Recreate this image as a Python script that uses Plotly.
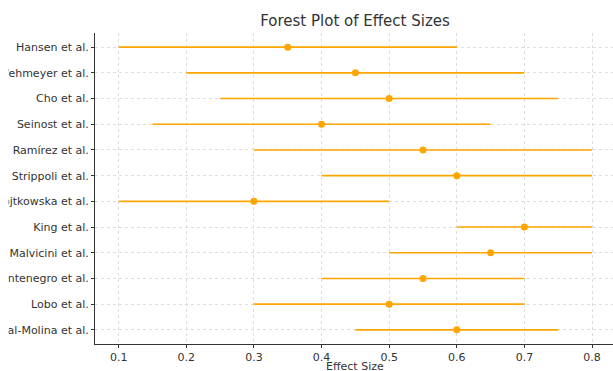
import plotly.graph_objects as go

studies = ["Hansen et al.", "Wehmeyer et al.", "Cho et al.", "Seinost et al.", "Ramírez et al.",
           "Strippoli et al.", "Wojtkowska et al.", "King et al.", "Malvicini et al.",
           "Montenegro et al.", "Lobo et al.", "Vidal-Molina et al."]
effect = [0.35, 0.45, 0.50, 0.40, 0.55, 0.60, 0.30, 0.70, 0.65, 0.55, 0.50, 0.60]
ci_low = [0.10, 0.20, 0.25, 0.15, 0.30, 0.40, 0.10, 0.60, 0.50, 0.40, 0.30, 0.45]
ci_high = [0.60, 0.70, 0.75, 0.65, 0.80, 0.80, 0.50, 0.80, 0.80, 0.70, 0.70, 0.75]
x_ticks = [0.1, 0.2, 0.3, 0.4, 0.5, 0.6, 0.7, 0.8]

color = "#FFA500"
fig = go.Figure(go.Scatter(
    x=effect, y=studies, mode="markers",
    marker=dict(color=color, size=7),
    error_x=dict(type="data", symmetric=False,
                 array=[h - e for h, e in zip(ci_high, effect)],
                 arrayminus=[e - l for e, l in zip(effect, ci_low)],
                 color=color, thickness=1.6, width=0),
    showlegend=False,
))

W, H = 613, 371
L, R, T, B = 95, 0, 33, 27
pw, ph = W - L - R, H - T - B
font = "DejaVu Sans, sans-serif"
fig.update_layout(
    width=W, height=H,
    margin=dict(l=L, r=R, t=T, b=B, autoexpand=False),
    paper_bgcolor="white", plot_bgcolor="white",
    font=dict(family=font, color="#333333", size=11),
    title=dict(text="Forest Plot of Effect Sizes", x=355/W, xanchor="center",
               y=1 - 21/H, yanchor="middle", font=dict(size=15, color="#333333")),
    annotations=[dict(text="Effect Size", xref="paper", yref="paper",
                      x=(355 - L) / pw, y=-(366 - (H - B)) / ph,
                      xanchor="center", yanchor="middle", showarrow=False,
                      font=dict(size=11, color="#333333"))],
    # the reference image is cropped on the left: mask the leftmost strip
    shapes=[dict(type="rect", xref="paper", yref="paper", layer="above",
                 x0=-L / pw, x1=(8.5 - L) / pw, y0=-B / ph, y1=1 + T / ph,
                 fillcolor="white", line=dict(width=0))],
)
fig.update_xaxes(
    range=[0.065, 0.831], tickvals=x_ticks, ticktext=[str(t) for t in x_ticks],
    showgrid=True, gridcolor="#dddddd", griddash="dot", gridwidth=1,
    showline=True, linecolor="#333333", linewidth=1,
    ticks="outside", ticklen=3, tickcolor="#333333", zeroline=False,
)
fig.update_yaxes(
    type="category", range=[11.55, -0.55],
    showgrid=True, gridcolor="#dddddd", griddash="dot", gridwidth=1,
    showline=True, linecolor="#333333", linewidth=1,
    ticks="outside", ticklen=3, tickcolor="#333333", zeroline=False,
)
fig.write_html("out.html", config={"displayModeBar": False},
               post_script="document.body.style.margin='0';")
